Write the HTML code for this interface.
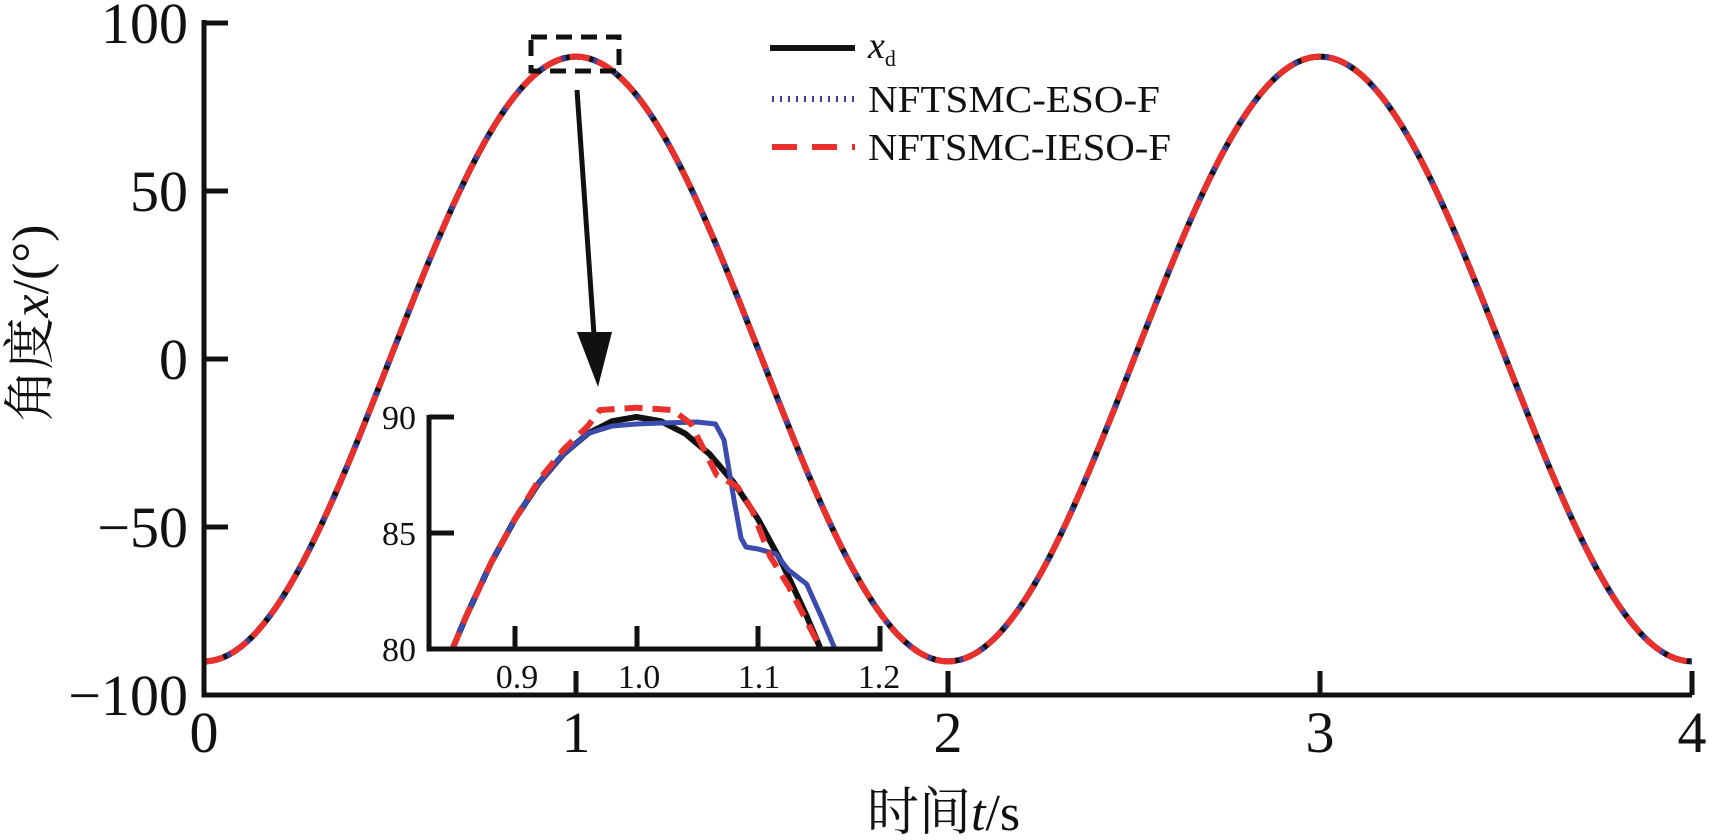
<!DOCTYPE html>
<html><head><meta charset="utf-8">
<style>
html,body{margin:0;padding:0;background:#fff;}
svg{display:block;}
text{font-family:"Liberation Serif","Noto Serif CJK SC",serif;fill:#111;}
</style></head>
<body>
<svg width="1712" height="840" viewBox="0 0 1712 840" xmlns="http://www.w3.org/2000/svg">
<defs>
<clipPath id="ic"><rect x="432" y="395" width="450" height="252"/></clipPath>
</defs>
<g fill="none" stroke-linejoin="round" stroke-width="6">
<path d="M204,661.4 C271.32,661.4 329.34,514.08 390,359 C450.66,203.92 508.68,56.6 576,56.6 C643.32,56.6 701.34,203.92 762,359 C822.66,514.08 880.68,661.4 948,661.4 C1015.32,661.4 1073.34,514.08 1134,359 C1194.66,203.92 1252.68,56.6 1320,56.6 C1387.32,56.6 1445.34,203.92 1506,359 C1566.66,514.08 1624.68,661.4 1692,661.4" stroke="#111"/>
<path d="M204,661.4 C271.32,661.4 329.34,514.08 390,359 C450.66,203.92 508.68,56.6 576,56.6 C643.32,56.6 701.34,203.92 762,359 C822.66,514.08 880.68,661.4 948,661.4 C1015.32,661.4 1073.34,514.08 1134,359 C1194.66,203.92 1252.68,56.6 1320,56.6 C1387.32,56.6 1445.34,203.92 1506,359 C1566.66,514.08 1624.68,661.4 1692,661.4" stroke="#3b3fa0" stroke-dasharray="4 4"/>
<path d="M204,661.4 C271.32,661.4 329.34,514.08 390,359 C450.66,203.92 508.68,56.6 576,56.6 C643.32,56.6 701.34,203.92 762,359 C822.66,514.08 880.68,661.4 948,661.4 C1015.32,661.4 1073.34,514.08 1134,359 C1194.66,203.92 1252.68,56.6 1320,56.6 C1387.32,56.6 1445.34,203.92 1506,359 C1566.66,514.08 1624.68,661.4 1692,661.4" stroke="#e8302c" stroke-dasharray="20 8"/>
</g>
<!-- main axes -->
<g stroke="#111" stroke-width="5" fill="none">
<path d="M204 20 V695 H1692"/>
<path d="M204 23 H228 M204 191 H228 M204 359 H228 M204 527 H228"/>
<path d="M576 695 V671 M948 695 V671 M1320 695 V671 M1692 695 V671"/>
</g>
<g font-size="58" text-anchor="end">
<text x="188" y="43">100</text>
<text x="188" y="211">50</text>
<text x="188" y="379">0</text>
<text x="188" y="547">−50</text>
<text x="188" y="715">−100</text>
</g>
<g font-size="58" text-anchor="middle">
<text x="204" y="752">0</text>
<text x="576" y="752">1</text>
<text x="948" y="752">2</text>
<text x="1320" y="752">3</text>
<text x="1692" y="752">4</text>
</g>
<text x="867" y="830" font-size="52">时间<tspan font-style="italic">t</tspan>/s</text>
<text transform="translate(48,323) rotate(-90)" font-size="52" text-anchor="middle">角度<tspan font-style="italic">x</tspan>/(°)</text>
<!-- legend -->
<line x1="770" y1="48" x2="855" y2="48" stroke="#111" stroke-width="6"/>
<line x1="772" y1="99" x2="855" y2="99" stroke="#3b3fa0" stroke-width="6" stroke-dasharray="2 6"/>
<line x1="772" y1="147" x2="855" y2="147" stroke="#e8302c" stroke-width="6" stroke-dasharray="25 15"/>
<text x="868" y="58" font-size="38" font-style="italic">x<tspan font-style="normal" font-size="22" dy="8">d</tspan></text>
<text x="868" y="112" font-size="38" textLength="292" lengthAdjust="spacingAndGlyphs">NFTSMC-ESO-F</text>
<text x="868" y="160" font-size="38" textLength="303" lengthAdjust="spacingAndGlyphs">NFTSMC-IESO-F</text>
<!-- dashed box and arrow -->
<rect x="531" y="37" width="88" height="34" fill="none" stroke="#111" stroke-width="5" stroke-dasharray="16 9"/>
<line x1="577" y1="90" x2="594" y2="335" stroke="#111" stroke-width="5"/>
<polygon points="577,332 612,332 598,387" fill="#111"/>
<!-- inset -->
<g clip-path="url(#ic)" fill="none" stroke-linejoin="round">
<polyline stroke="#111" stroke-width="6" points="442.1,675.2 454.25,644.6 466.4,615.8 490.7,563.6 515,519.1 539.3,482.4 563.6,453.9 587.9,433.5 612.2,421.2 636.5,417 660.8,421.2 685.1,433.5 709.4,453.9 733.7,482.4 758,519.1 782.3,563.6 806.6,615.8 818.75,644.6 830.9,675.2"/>
<polyline stroke="#3b4bb0" stroke-width="5" points="442.1,675.2 454.25,644.6 466.4,615.8 490.7,563.6 515,519.1 539.3,482.4 563.6,453.9 587.9,433.5 612.2,426 636.5,424 660.8,423 697,422 715.5,424 724,440 733.7,498 741,538 746,547 758,549 776,554 788.4,570 806.6,584 821,616 833.3,645 845.5,675"/>
<polyline stroke="#e8302c" stroke-width="6" stroke-dasharray="18 10" points="442.1,675.2 454.25,644.6 466.4,615.8 490.7,563.6 515,519 539.3,479.6 563.6,449.5 587.9,426 600,410 636.5,407.7 673,410 691,424 716.7,475 737.3,486.6 752,509.8 770,556 788.4,586 806.6,621 821,649 833.3,675"/>
</g>
<g stroke="#111" stroke-width="5" fill="none">
<path d="M429 415 V649 H880 V626"/>
<path d="M429 417 H454 M429 533 H454"/>
<path d="M515 649 V626 M637 649 V626 M758 649 V626"/>
</g>
<g font-size="34" text-anchor="end">
<text x="416" y="429">90</text>
<text x="416" y="545">85</text>
<text x="416" y="661">80</text>
</g>
<g font-size="34" text-anchor="middle">
<text x="517" y="688">0.9</text>
<text x="639" y="688">1.0</text>
<text x="759" y="688">1.1</text>
<text x="879" y="688">1.2</text>
</g>
</svg>
</body></html>
